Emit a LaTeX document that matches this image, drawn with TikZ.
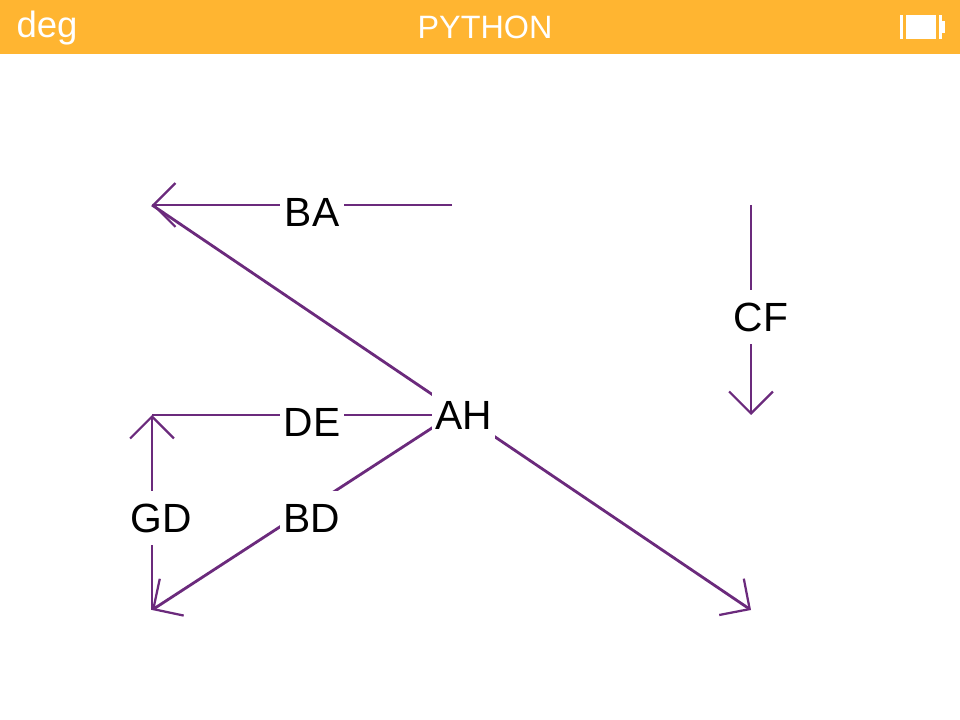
\documentclass[tikz,border=0pt]{standalone}
\usepackage{fontspec}
\setmainfont{Liberation Sans}
\definecolor{headerorange}{RGB}{255,181,49}
\definecolor{turtlepurple}{RGB}{107,42,124}
\usetikzlibrary{arrows.meta}

\begin{document}
\begin{tikzpicture}[x=0.025cm,y=-0.025cm,
        seg/.style={draw=turtlepurple,line width=2pt},
        arr/.style={seg,-{Straight Barb[length=15.6pt,width=31.2pt,line width=1.6pt]}},
        lbl/.style={fill=white,inner sep=0pt,minimum width=64*0.7087pt,minimum height=55*0.7087pt,font=\fontsize{29}{29}\selectfont},
        hdr/.style={text=white,inner sep=0pt}]
        \useasboundingbox (0,0) rectangle (960,720);
        \fill[headerorange] (0,0) rectangle (960,54);
        \node[hdr,font=\fontsize{26}{26}\selectfont] (mode) at (47,28) {deg};
        \node[hdr,font=\fontsize{23}{23}\selectfont] (title) at (485,27) {PYTHON};
        % battery
        \fill[white] (900,15) rectangle (903,39);
        \fill[white] (906,15) rectangle (936,39);
        \fill[white] (939,15) rectangle (942,39);
        \fill[white] (942,21) rectangle (945,33);
        \coordinate (a) at (152,205);
        \coordinate (b) at (452,205);
        \coordinate (c) at (751,205);
        \coordinate (f) at (751,415);
        \coordinate (e) at (452,415);
        \coordinate (g) at (152,415);
        \coordinate (d) at (152,610);
        \coordinate (h) at (751,610);
        \draw[arr] (b)--(a); \draw[arr] (a)--(h);
        \draw[arr] (c)--(f); \draw[seg] (e)--(g);
        \draw[arr] (e)--(d); \draw[arr] (d)--(g);
        \node[lbl] (ba) at (312,212) {BA};
        \node[lbl] (cf) at (761,317) {CF};
        \node[lbl] (ah) at (463.5,415) {AH};
        \node[lbl] (de) at (312,422) {DE};
        \node[lbl] (gd) at (161,518) {GD};
        \node[lbl] (bd) at (312,518) {BD};
      \end{tikzpicture}
\end{document}
